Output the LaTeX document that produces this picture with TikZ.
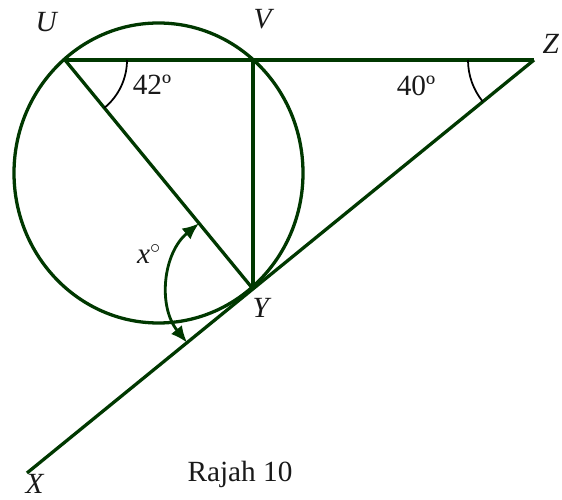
\documentclass[tikz,border=0pt]{standalone}
\usepackage{fontspec}
\setmainfont{Liberation Serif}
\usepackage{tikz}
\usetikzlibrary{angles,arrows.meta}

\definecolor{linegreen}{RGB}{0,56,0}

\begin{document}
\begin{tikzpicture}[x=0.03cm,y=0.03cm,
  geo/.style={draw=linegreen,line width=2.8pt},
  lbl/.style={font=\fontsize{25}{30}\selectfont,text=black!90,inner sep=0pt},
  anglemark/.style={draw=black,line width=1.5pt}]

\useasboundingbox (0,0) rectangle (562,499);

\coordinate (O) at (158.5,326);
\coordinate (U) at (65,439);
\coordinate (V) at (253,439);
\coordinate (Z) at (534,439);
\coordinate (Y) at (253,210);
\coordinate (X) at (27,26);

\draw[geo] (O) ellipse [x radius=144.5,y radius=150];

\draw[geo] (U)--(Z);
\draw[geo] (U)--(Y);
\draw[geo] (V)--(Y);
\draw[geo] (Z)--(X);

\pic[anglemark,angle radius=1.86cm] {angle=Y--U--V};
\pic[anglemark,angle radius=1.98cm] {angle=U--Z--X};
\pic[draw=linegreen,line width=2.4pt,{Latex[length=0.5cm,width=0.42cm]}-{Latex[length=0.5cm,width=0.42cm]},angle radius=2.55cm] {angle=U--Y--X};

\node[lbl] (lU) at (47,477) {\textit{U}};
\node[lbl] (lV) at (264,480) {\textit{V}};
\node[lbl] (lZ) at (551,455) {\textit{Z}};
\node[lbl] (lY) at (262,191) {\textit{Y}};
\node[lbl] (lX) at (35,15) {\textit{X}};

\node[lbl] (a42) at (152,414) {42º};
\node[lbl] (a40) at (416,413) {40º};
\node[lbl] (ax) at (149,245) {\textit{x}$^{\circ}$};

\node[lbl] (cap) at (240,25) {Rajah 10};

\end{tikzpicture}
\end{document}
